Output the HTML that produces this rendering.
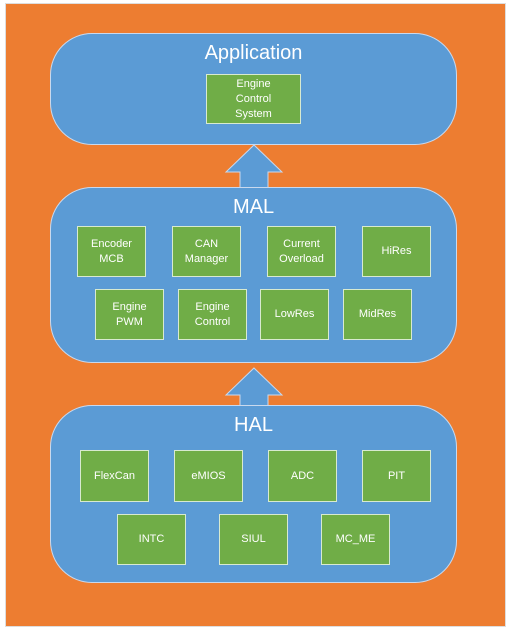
<!DOCTYPE html>
<html><head><meta charset="utf-8"><style>
body{margin:0;width:512px;height:636px;background:#fff;position:relative;overflow:hidden;font-family:"Liberation Sans",sans-serif;}
.bg{position:absolute;left:5px;top:3px;width:501px;height:624px;background:#ED7D31;border:1px solid #ddd;box-sizing:border-box}
.lay{position:absolute;left:50px;width:407px;background:#5B9BD5;border:1px solid #c9d9ee;box-sizing:border-box;border-radius:42px}
.t{position:absolute;left:0;width:100%;text-align:center;color:#fff;font-size:20px}
.g{position:absolute;background:#70AD47;border:1px solid #d8ead0;box-sizing:border-box;color:#fff;font-size:11px;line-height:15px;display:flex;align-items:center;justify-content:center;text-align:center}
svg{position:absolute;left:0;top:0}
</style></head><body>
<div class="bg"></div>
<svg width="512" height="636">
<polygon points="254,145 282,172 268,172 268,188 240,188 240,172 226,172" fill="#5B9BD5" stroke="#c9d9ee" stroke-width="1"/>
<polygon points="254,368 282,395 268,395 268,406 240,406 240,395 226,395" fill="#5B9BD5" stroke="#c9d9ee" stroke-width="1"/>
</svg>
<div class="lay" style="top:33px;height:112px"><div class="t" style="top:8px">Application</div></div>
<div class="g" style="left:206px;top:74px;width:95px;height:50px">Engine<br>Control<br>System</div>
<div class="lay" style="top:187px;height:176px"><div class="t" style="top:8px">MAL</div></div>
<div class="g" style="left:77px;top:226px;width:69px;height:51px">Encoder<br>MCB</div>
<div class="g" style="left:172px;top:226px;width:69px;height:51px">CAN<br>Manager</div>
<div class="g" style="left:267px;top:226px;width:69px;height:51px">Current<br>Overload</div>
<div class="g" style="left:362px;top:226px;width:69px;height:51px">HiRes</div>
<div class="g" style="left:95px;top:289px;width:69px;height:51px">Engine<br>PWM</div>
<div class="g" style="left:178px;top:289px;width:69px;height:51px">Engine<br>Control</div>
<div class="g" style="left:260px;top:289px;width:69px;height:51px">LowRes</div>
<div class="g" style="left:343px;top:289px;width:69px;height:51px">MidRes</div>
<div class="lay" style="top:405px;height:178px"><div class="t" style="top:8px">HAL</div></div>
<div class="g" style="left:80px;top:450px;width:69px;height:52px">FlexCan</div>
<div class="g" style="left:174px;top:450px;width:69px;height:52px">eMIOS</div>
<div class="g" style="left:268px;top:450px;width:69px;height:52px">ADC</div>
<div class="g" style="left:362px;top:450px;width:69px;height:52px">PIT</div>
<div class="g" style="left:117px;top:514px;width:69px;height:51px">INTC</div>
<div class="g" style="left:219px;top:514px;width:69px;height:51px">SIUL</div>
<div class="g" style="left:321px;top:514px;width:69px;height:51px">MC_ME</div>
</body></html>
